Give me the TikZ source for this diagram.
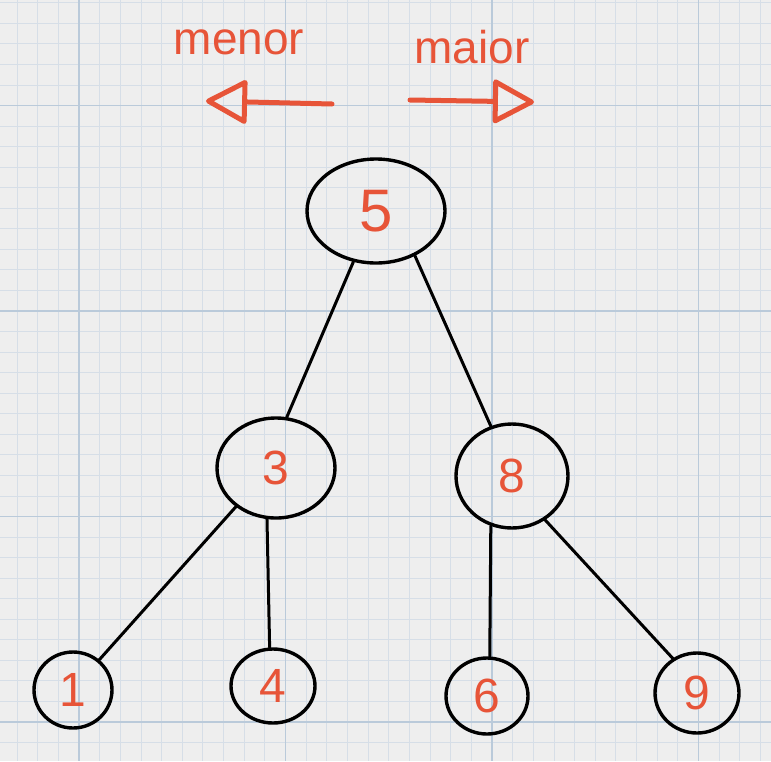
\documentclass[tikz,border=0pt]{standalone}
\usepackage{fontspec}
\setmainfont{Liberation Sans}
\usetikzlibrary{shapes.geometric,arrows.meta}
\definecolor{ink}{RGB}{231,84,56}
\definecolor{paper}{RGB}{238,238,238}
\definecolor{gridminor}{RGB}{214,222,231}
\definecolor{gridmajor}{RGB}{186,202,218}

\begin{document}
\begin{tikzpicture}[
    x=1pt, y=-1pt,
    treenode/.style={ellipse, draw=black, line width=3.4pt, inner sep=0pt, text=ink,
        font=\fontsize{48}{48}\selectfont},
    edge/.style={line width=3pt, line cap=round},
    hint/.style={text=ink, font=\fontsize{46}{46}\selectfont},
    sidearrow/.style={draw=ink, line width=5pt, line cap=round,
        -{Triangle[open, length=44pt, width=46pt, round]}}
]
% paper
\fill[paper] (0,0) rectangle (771,761);
\useasboundingbox (0,0) rectangle (771,761);
\foreach \i in {0,...,36}
  \draw[gridminor, line width=0.9pt] ({17.05+20.65*\i},0) -- ({17.05+20.65*\i},761);
\foreach \i in {0,...,36}
  \draw[gridminor, line width=0.9pt] (0,{2.75+20.55*\i}) -- (771,{2.75+20.55*\i});
\foreach \i in {0,...,3}
  \draw[gridmajor, line width=1.5pt] ({79+206.5*\i},0) -- ({79+206.5*\i},761);
\foreach \i in {0,...,3}
  \draw[gridmajor, line width=1.5pt] (0,{105.5+205.5*\i}) -- (771,{105.5+205.5*\i});

% direction hints
\node[hint] (menor) at (239,42) {menor};
\node[hint] (maior) at (472,47) {maior};
\coordinate (ml0) at (332,104);
\coordinate (ml1) at (206,101);
\coordinate (mr0) at (410,100);
\coordinate (mr1) at (534,102);
\draw[sidearrow] (ml0)--(ml1);
\draw[sidearrow] (mr0)--(mr1);

% tree
\node[treenode, minimum width=138pt, minimum height=104pt,
      font=\fontsize{60}{60}\selectfont] (n5) at (376,211) {5};
\node[treenode, minimum width=118pt, minimum height=100pt] (n3) at (276,468) {3};
\node[treenode, minimum width=112pt, minimum height=104pt] (n8) at (512,476) {8};
\node[treenode, minimum width=78pt, minimum height=76pt] (n1) at (73,690) {1};
\node[treenode, minimum width=84pt, minimum height=74pt] (n4) at (273,686) {4};
\node[treenode, minimum width=82pt, minimum height=76pt] (n6) at (487,696) {6};
\node[treenode, minimum width=84pt, minimum height=80pt] (n9) at (697,693) {9};

\draw[edge] (n5.-114)--(n3.78);
\draw[edge] (n5.-49)--(n8.113);
\draw[edge] (n3.-136)--(n1.49);
\draw[edge] (n3.-100)--(n4.95);
\draw[edge] (n8.-113)--(n6.86);
\draw[edge] (n8.-53)--(n9.125);
\end{tikzpicture}
\end{document}
